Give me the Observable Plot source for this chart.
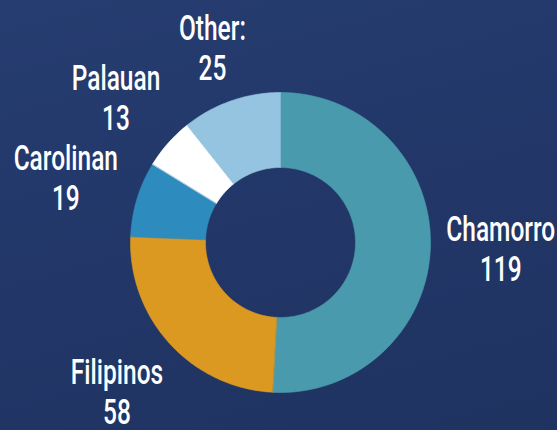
<!DOCTYPE html>
<html><head><meta charset="utf-8">
<script src="https://cdn.jsdelivr.net/npm/d3@7"></script>
<script src="https://cdn.jsdelivr.net/npm/@observablehq/plot@0.6"></script>
<style>
html,body{margin:0;padding:0;}
body{width:557px;height:430px;overflow:hidden;background:linear-gradient(165deg,#263d71 0%,#223768 50%,#1f3361 100%);}
#chart svg{display:block;background:transparent;}
</style></head><body><div id="chart"></div>
<script>
const categories = ["Chamorro", "Filipinos", "Carolinan", "Palauan", "Other:"];
const values = [119, 58, 19, 13, 25];
const colors = ["#4a9aad", "#dc9922", "#2e8bbd", "#ffffff", "#95c4e1"];

const W = 557, H = 430, cx = 280, cy = 242, R = 150, inner = 0.5;
const fontSize = 35, squeeze = 0.7, lineH = 40, capH = 25, gap = 15, fontWeight = 500;
const fontFamily = "Roboto, 'Noto Sans', sans-serif";

const ctx = document.createElement("canvas").getContext("2d");
ctx.font = `${fontWeight} ${fontSize}px Roboto`;
const textW = s => ctx.measureText(s).width * squeeze;

const data = categories.map((name, i) => ({name, value: values[i]}));
const arcs = d3.pie().sort(null).value(d => d.value)(data);
const pts = [];
const labels = [];
for (const a of arcs) {
  const n = Math.max(2, Math.ceil((a.endAngle - a.startAngle) / (Math.PI / 180)));
  for (let k = 0; k <= n; k++) {
    const t = a.startAngle + (a.endAngle - a.startAngle) * k / n;
    pts.push({name: a.data.name, x: Math.sin(t), y: Math.cos(t)});
  }
  for (let k = n; k >= 0; k--) {
    const t = a.startAngle + (a.endAngle - a.startAngle) * k / n;
    pts.push({name: a.data.name, x: inner * Math.sin(t), y: inner * Math.cos(t)});
  }
  const m = (a.startAngle + a.endAngle) / 2;
  const ux = Math.sin(m), uy = Math.cos(m);
  const hw = Math.max(textW(a.data.name), textW(String(a.data.value))) / 2;
  const hh = (capH + lineH) / 2;
  const dist = (R + gap + hw * Math.abs(ux) + hh * Math.abs(uy)) / R;
  labels.push({name: a.data.name, value: a.data.value, x: dist * ux, y: dist * uy});
}

const chart = Plot.plot({
  width: W, height: H,
  marginTop: 0, marginRight: 0, marginBottom: 0, marginLeft: 0,
  style: {background: "transparent", overflow: "visible"},
  x: {domain: [-cx / R, (W - cx) / R], range: [0, W], axis: null},
  y: {domain: [-(H - cy) / R, cy / R], range: [H, 0], axis: null},
  color: {domain: categories, range: colors},
  marks: [
    Plot.line(pts, {x: "x", y: "y", z: "name", fill: "name", stroke: "name", strokeWidth: 0.6, curve: "linear-closed"}),
    Plot.text(labels, {
      x: "x", y: "y",
      text: d => `${d.name}\n${d.value}`,
      fill: "white", fontSize, fontWeight, lineHeight: lineH / fontSize, lineAnchor: "middle",
      fontFamily, textAnchor: "middle"
    })
  ]
});
chart.querySelectorAll('g[aria-label="text"] text').forEach(t => {
  t.setAttribute("transform", (t.getAttribute("transform") || "") + ` scale(${squeeze},1)`);
});
document.getElementById("chart").appendChild(chart);
</script>
</body></html>
